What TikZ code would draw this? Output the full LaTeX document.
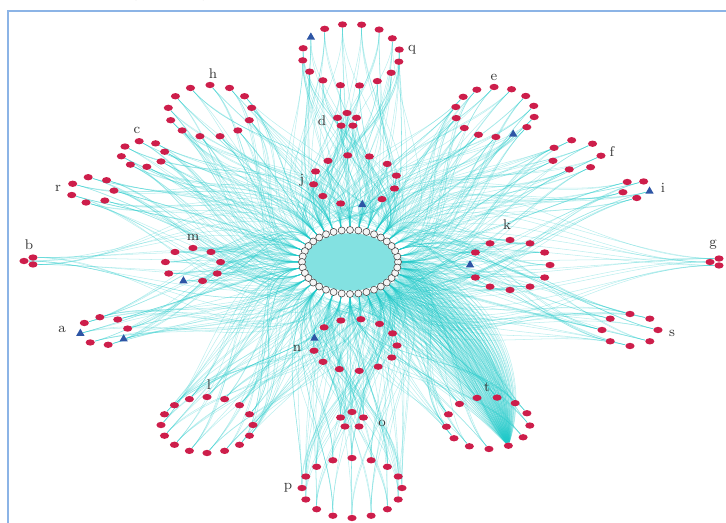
\documentclass[tikz,border=0pt]{standalone}
\usepackage{tikz}
\usetikzlibrary{shapes.geometric, calc, backgrounds}
\definecolor{dotred}{RGB}{205,30,75}
\definecolor{triblue}{RGB}{45,85,165}
\definecolor{linkcyan}{RGB}{30,200,200}
\definecolor{framebl}{RGB}{140,180,230}
\tikzset{
    dot/.style={ellipse, fill=dotred, inner sep=0pt, minimum width=5.2pt, minimum height=3.6pt},
    tri/.style={regular polygon, regular polygon sides=3, fill=triblue, inner sep=0pt, minimum size=5.5pt},
    hub/.style={circle, draw=gray!60!black, fill=gray!8, inner sep=0pt, minimum size=4pt, line width=0.35pt},
    link/.style={linkcyan, line width=0.3pt, opacity=0.3},
    lbl/.style={font=\footnotesize, text=gray!45!black, inner sep=1pt}
}
% name / centre / radii / nodes / start angle / triangles / label
\def\clusters{q/351/468/49/31/16/145/1/0/412/473,
    h/210/412/42/26/13/90/0/0/213/449,
    c/143/369/22/13/8/100/0/0/137/393,
    r/92/333/22/13/7/100/0/0/58/335,
    b/30/262/6/4/3/180/0/0/29/278,
    m/193/258/28/17/9/250/1/0/193/286,
    a/104/192/24/14/8/325/1/6/62/194,
    d/347/403/10/7/5/90/0/0/322/402,
    j/355/343/42/25/12/280/1/0/302/343,
    e/495/411/40/25/14/297/1/0/494/446,
    f/576/368/25/15/7/100/0/0/612/371,
    i/636/334/14/9/5/345/1/0/663/335,
    k/510/258/40/25/12/180/1/0/507/298,
    g/716/261/6/4/3/180/0/0/713/278,
    s/630/193/28/16/8/90/0/0/672/190,
    n/355/178/42/26/13/165/1/0/297/175,
    l/207/98/46/28/16/90/0/0/209/138,
    t/488/100/42/26/13/299/0/0/487/136,
    o/352/103/12/8/5/90/0/0/382/100,
    p/352/35/50/30/16/90/0/0/288/35}

\begin{document}
\begin{tikzpicture}[x=0.02cm, y=0.02cm]
    \useasboundingbox (0,0) rectangle (726,523);
    \draw[framebl, line width=1pt] (8,0) -- (8,512) -- (726,512);
    \node (cap) [anchor=base west, font=\fontsize{14}{16}\selectfont, inner sep=0pt] at (2,528) {l categories (Fig. 7).};

    % central ring
    \node (core) [ellipse, fill=linkcyan!55, minimum width=1.8cm, minimum height=1.15cm] at (350,261) {};
    \foreach \k in {0,...,35}
        \node[hub] (ring-\k) at ({350+48*cos(\k*10)},{261+32*sin(\k*10)}) {};

    % groups
    \foreach \nm/\cx/\cy/\rx/\ry/\n/\st/\ta/\tb/\lx/\ly in \clusters {
        \foreach \i in {1,...,\n} {
            \pgfmathsetmacro\a{\st+(\i-1)*360/\n}
            \ifnum\i=\ta
                \node[tri] (\nm-\i) at ({\cx+\rx*cos(\a)},{\cy+\ry*sin(\a)}) {};
            \else\ifnum\i=\tb
                \node[tri] (\nm-\i) at ({\cx+\rx*cos(\a)},{\cy+\ry*sin(\a)}) {};
            \else
                \node[dot] (\nm-\i) at ({\cx+\rx*cos(\a)},{\cy+\ry*sin(\a)}) {};
            \fi\fi
        }
        \node[lbl] (lab-\nm) at (\lx,\ly) {\nm};
    }

    \begin{pgfonlayer}{background}
    \foreach \nm/\cx/\cy/\rx/\ry/\n/\st/\ta/\tb/\lx/\ly in \clusters {
        \pgfmathsetmacro\dir{atan2(\cy-261,\cx-350)}
        \pgfmathsetmacro\od{\dir+180}
        \foreach \i in {1,...,\n} \foreach \j in {1,2,3,4,5} {
            \pgfmathtruncatemacro\k{mod(round((\dir+mod(\i*37+\j*53,110)-55)/10)+72,36)}
            \pgfmathsetmacro\id{\k*10}
            \pgfmathsetmacro\lo{0.6+0.15*mod(\i+\j,4)}
            \draw[link] (\nm-\i) to[out=\od, in=\id, looseness=\lo] (ring-\k);
        }
    }
    % dense bundle into t
    \foreach \k in {27,28,29,30,31,32,33,34,35,0,1} \foreach \b in {0,4,...,48}
        \draw[link] (ring-\k) to[bend left=\b] (t-1);
    \end{pgfonlayer}
\end{tikzpicture}
\end{document}
